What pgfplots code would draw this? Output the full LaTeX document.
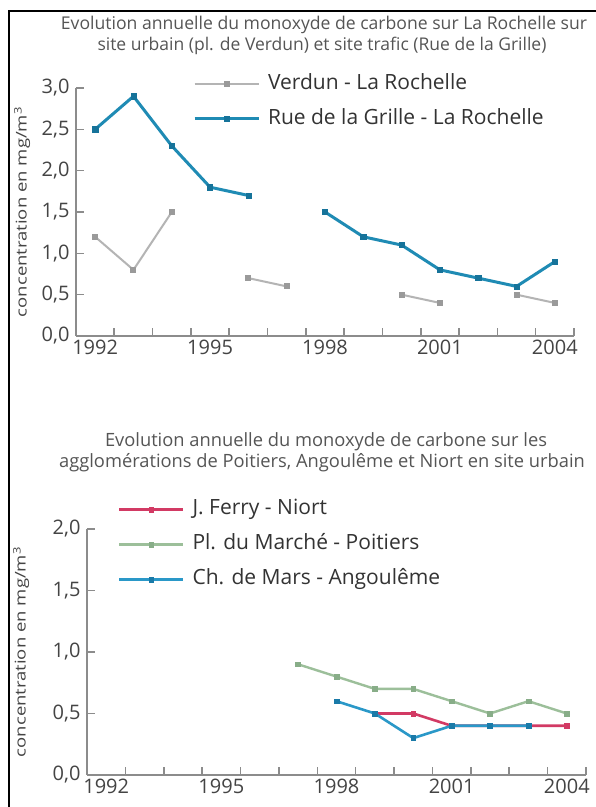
\documentclass[border=0pt]{standalone}
\usepackage{pgfplots}
\pgfplotsset{compat=1.18}
\usepackage{fontspec}
\setmainfont{Open Sans}
\definecolor{axisgray}{HTML}{8C8C8C}
\definecolor{ticktext}{HTML}{444444}
\definecolor{titlegray}{HTML}{555555}
\definecolor{legtext}{HTML}{333333}
\definecolor{verdun}{HTML}{B4B4B4}
\definecolor{verdunmk}{HTML}{9A9A9A}
\definecolor{rue}{HTML}{1F8BB4}
\definecolor{ruemk}{HTML}{16739A}
\definecolor{niort}{HTML}{D23A64}
\definecolor{poitiers}{HTML}{9CBF9A}
\definecolor{poitiersmk}{HTML}{88AD88}
\definecolor{angou}{HTML}{2A98C8}
\definecolor{angoumk}{HTML}{1A7AA8}

\pgfplotsset{
  common/.style={
    scale only axis,
    xmin=1991.5, xmax=2004.5, ymin=0,
    axis lines*=left,
    axis line style={draw=axisgray, line width=2pt},
    tick align=inside,
    major tick length=8pt,
    tick style={draw=axisgray, line width=1.6pt},
    xtick={1991.5,1992.5,...,2004.5},
    xticklabels={},
    extra x ticks={1992,1995,1998,2001,2004},
    extra x tick labels={1992,1995,1998,2001,2004},
    extra x tick style={major tick length=0pt},
    x tick label style={font=\fontsize{20}{24}\selectfont, text=ticktext},
    y tick label style={font=\fontsize{20}{24}\selectfont, text=ticktext, xshift=-3pt,
      /pgf/number format/.cd, fixed, fixed zerofill, precision=1, use comma, assume math mode=true},
    ylabel={\scalebox{1}[0.8]{concentration en mg/m\textsuperscript{3}}},
    ylabel style={font=\fontsize{18.5}{22}\selectfont, text=ticktext, anchor=center},
    unbounded coords=jump,
    clip=false,
    legend cell align=left,
    legend style={draw=none, fill=none, inner sep=0pt, outer sep=0pt,
      font=\fontsize{21}{25}\selectfont, text=legtext,
      nodes={inner sep=0pt, text height=15pt, text depth=4pt},
      row sep=16pt, column sep=8pt},
    legend image code/.code={
      \draw[mark repeat=2,mark phase=2,##1] plot coordinates {(0pt,0pt) (32pt,0pt) (64pt,0pt)};
    },
  }
}

\begin{document}
\begin{tikzpicture}
\path[use as bounding box] (0,0) rectangle (596pt,807pt);
\clip (0,0) rectangle (596pt,807pt);
\fill[white] (0,0) rectangle (596pt,807pt);
\draw[line width=2pt, black] (9pt,-2pt) -- (9pt,796pt) -- (600pt,796pt);

\node[anchor=base, font=\fontsize{17.6}{21}\selectfont, text=titlegray] at (324pt,777pt)
  {Evolution annuelle du monoxyde de carbone sur La Rochelle sur};
\node[anchor=base, font=\fontsize{17.5}{21}\selectfont, text=titlegray] at (322pt,756pt)
  {site urbain (pl. de Verdun) et site trafic (Rue de la Grille)};

\node[anchor=base, font=\fontsize{18.3}{21}\selectfont, text=titlegray] at (326pt,360pt)
  {Evolution annuelle du monoxyde de carbone sur les};
\node[anchor=base, font=\fontsize{18.3}{21}\selectfont, text=titlegray] at (322pt,339pt)
  {agglomérations de Poitiers, Angoulême et Niort en site urbain};

\begin{axis}[common,
  at={(76pt,471pt)}, anchor=south west,
  width=498pt, height=248pt,
  ymax=3, ytick={0,0.5,...,3},
  ylabel style={at={(axis description cs:-0.108,0.5)}},
  legend style={at={(axis description cs:0.235,1.056)}, anchor=north west},
]
\addplot[color=verdun, line width=2pt, mark=square*, mark size=2pt,
  mark options={fill=verdunmk, draw=verdunmk}]
  coordinates {(1992,1.2) (1993,0.8) (1994,1.5) (1995,nan) (1996,0.7) (1997,0.6)
    (1998,nan) (2000,0.5) (2001,0.4) (2002,nan) (2003,0.5) (2004,0.4)};
\addlegendentry{Verdun - La Rochelle}
\addplot[color=rue, line width=3pt, mark=square*, mark size=2.6pt,
  mark options={fill=ruemk, draw=ruemk, line width=0.5pt}]
  coordinates {(1992,2.5) (1993,2.9) (1994,2.3) (1995,1.8) (1996,1.7) (1997,nan)
    (1998,1.5) (1999,1.2) (2000,1.1) (2001,0.8) (2002,0.7) (2003,0.6) (2004,0.9)};
\addlegendentry{Rue de la Grille - La Rochelle}
\end{axis}

\begin{axis}[common,
  at={(87pt,32pt)}, anchor=south west,
  width=499pt, height=246pt,
  ymax=2, ytick={0,0.5,...,2},
  ylabel style={at={(axis description cs:-0.132,0.5)}},
  legend style={at={(axis description cs:0.062,1.118)}, anchor=north west},
]
\addplot[color=niort, line width=2.6pt, mark=square*, mark size=2.4pt,
  mark options={fill=niort, draw=niort, line width=0.5pt}]
  coordinates {(1999,0.5) (2000,0.5) (2001,0.4) (2002,0.4) (2003,0.4) (2004,0.4)};
\addlegendentry{J. Ferry - Niort}
\addplot[color=poitiers, line width=2.4pt, mark=square*, mark size=2.4pt,
  mark options={fill=poitiersmk, draw=poitiersmk, line width=0.5pt}]
  coordinates {(1997,0.9) (1998,0.8) (1999,0.7) (2000,0.7) (2001,0.6) (2002,0.5) (2003,0.6) (2004,0.5)};
\addlegendentry{Pl. du Marché - Poitiers}
\addplot[color=angou, line width=2.6pt, mark=square*, mark size=2.4pt,
  mark options={fill=angoumk, draw=angoumk, line width=0.5pt}]
  coordinates {(1998,0.6) (1999,0.5) (2000,0.3) (2001,0.4) (2002,0.4) (2003,0.4)};
\addlegendentry{Ch. de Mars - Angoulême}
\end{axis}
\end{tikzpicture}
\end{document}
